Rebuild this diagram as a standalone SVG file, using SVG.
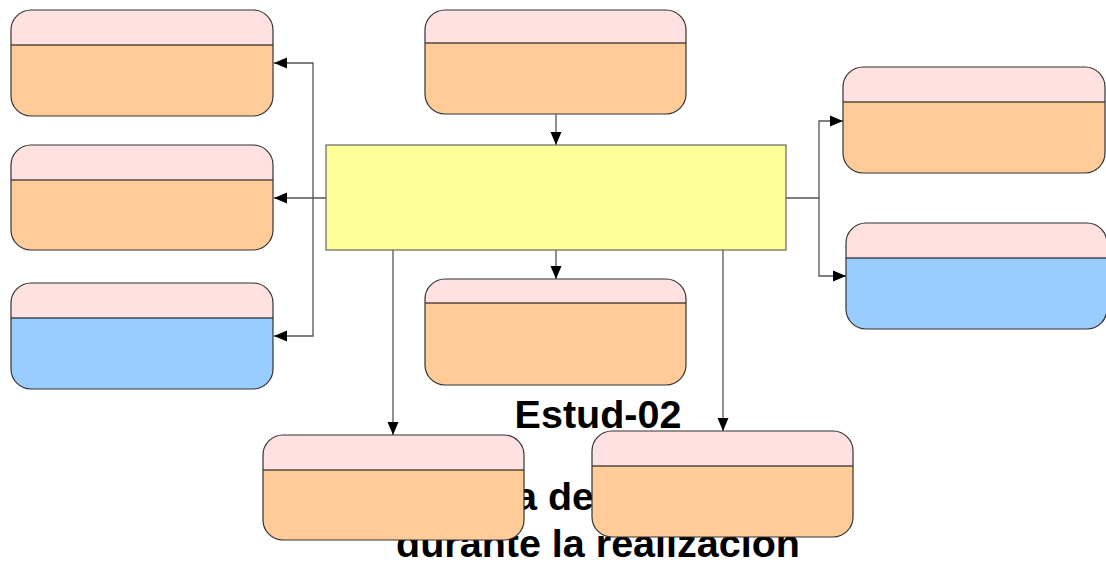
<svg xmlns="http://www.w3.org/2000/svg" width="1106" height="563" viewBox="0 0 1106 563">
<style>
.t{font-family:"Liberation Sans",Arial,sans-serif;font-weight:bold;font-size:39.5px;fill:#000}
.body{stroke:none}
.org{fill:#FFCC99}
.blu{fill:#99CCFF}
.hdr{fill:#FFE1E1;stroke:none}
.div{stroke:#000;stroke-width:1.2}
.out{fill:none;stroke:#333;stroke-width:1.2}
.yel{fill:#FFFF99;stroke:#666;stroke-width:1.2}
.c{fill:none;stroke:#555;stroke-width:1.3}
</style>
<defs>
<marker id="ah" markerUnits="userSpaceOnUse" markerWidth="14" markerHeight="12" refX="13" refY="6" orient="auto">
<path d="M0,0.5 L13,6 L0,11.5 Z" fill="#000"/>
</marker>
</defs>
<g id="title">
<text class="t" x="598" y="428" text-anchor="middle">Estud-02</text>
<text class="t" x="515" y="510">a de</text>
<text class="t" x="598" y="557" text-anchor="middle">durante la realizacion</text>
</g>
<g id="connectors">
<path class="c" d="M326,198 H274" marker-end="url(#ah)"/>
<path class="c" d="M313,198 V63 H274" marker-end="url(#ah)"/>
<path class="c" d="M313,198 V336 H274" marker-end="url(#ah)"/>
<path class="c" d="M556,114 V145" marker-end="url(#ah)"/>
<path class="c" d="M556,250 V279" marker-end="url(#ah)"/>
<path class="c" d="M786,198 H819 V121 H843" marker-end="url(#ah)"/>
<path class="c" d="M819,198 V276 H846" marker-end="url(#ah)"/>
<path class="c" d="M393,250 V435" marker-end="url(#ah)"/>
<path class="c" d="M723,250 V431" marker-end="url(#ah)"/>
</g>
<g id="center">
<rect class="yel" x="326" y="145" width="460" height="105"/>
</g>
<g id="box-tl" transform="translate(11,10)">
<rect class="body org" width="262" height="106" rx="20"/>
<path class="hdr" d="M0,35 V20 A20,20 0 0 1 20,0 H242 A20,20 0 0 1 262,20 V35 Z"/>
<line class="div" x1="0" y1="35" x2="262" y2="35"/>
<rect class="out" width="262" height="106" rx="20"/>
</g>
<g id="box-ml" transform="translate(11,145)">
<rect class="body org" width="262" height="105" rx="20"/>
<path class="hdr" d="M0,35 V20 A20,20 0 0 1 20,0 H242 A20,20 0 0 1 262,20 V35 Z"/>
<line class="div" x1="0" y1="35" x2="262" y2="35"/>
<rect class="out" width="262" height="105" rx="20"/>
</g>
<g id="box-bl" transform="translate(11,283)">
<rect class="body blu" width="262" height="106" rx="20"/>
<path class="hdr" d="M0,35 V20 A20,20 0 0 1 20,0 H242 A20,20 0 0 1 262,20 V35 Z"/>
<line class="div" x1="0" y1="35" x2="262" y2="35"/>
<rect class="out" width="262" height="106" rx="20"/>
</g>
<g id="box-tc" transform="translate(425,10)">
<rect class="body org" width="261" height="104" rx="20"/>
<path class="hdr" d="M0,33 V20 A20,20 0 0 1 20,0 H241 A20,20 0 0 1 261,20 V33 Z"/>
<line class="div" x1="0" y1="33" x2="261" y2="33"/>
<rect class="out" width="261" height="104" rx="20"/>
</g>
<g id="box-cb" transform="translate(425,279)">
<rect class="body org" width="261" height="106" rx="20"/>
<path class="hdr" d="M0,24 V20 A20,20 0 0 1 20,0 H241 A20,20 0 0 1 261,20 V24 Z"/>
<line class="div" x1="0" y1="24" x2="261" y2="24"/>
<rect class="out" width="261" height="106" rx="20"/>
</g>
<g id="box-rt" transform="translate(843,67)">
<rect class="body org" width="262" height="106" rx="20"/>
<path class="hdr" d="M0,35 V20 A20,20 0 0 1 20,0 H242 A20,20 0 0 1 262,20 V35 Z"/>
<line class="div" x1="0" y1="35" x2="262" y2="35"/>
<rect class="out" width="262" height="106" rx="20"/>
</g>
<g id="box-rb" transform="translate(846,223)">
<rect class="body blu" width="261" height="106" rx="20"/>
<path class="hdr" d="M0,35 V20 A20,20 0 0 1 20,0 H241 A20,20 0 0 1 261,20 V35 Z"/>
<line class="div" x1="0" y1="35" x2="261" y2="35"/>
<rect class="out" width="261" height="106" rx="20"/>
</g>
<g id="box-bot-l" transform="translate(263,435)">
<rect class="body org" width="261" height="105" rx="20"/>
<path class="hdr" d="M0,35 V20 A20,20 0 0 1 20,0 H241 A20,20 0 0 1 261,20 V35 Z"/>
<line class="div" x1="0" y1="35" x2="261" y2="35"/>
<rect class="out" width="261" height="105" rx="20"/>
</g>
<g id="box-bot-r" transform="translate(592,431)">
<rect class="body org" width="261" height="106" rx="20"/>
<path class="hdr" d="M0,35 V20 A20,20 0 0 1 20,0 H241 A20,20 0 0 1 261,20 V35 Z"/>
<line class="div" x1="0" y1="35" x2="261" y2="35"/>
<rect class="out" width="261" height="106" rx="20"/>
</g>
</svg>
